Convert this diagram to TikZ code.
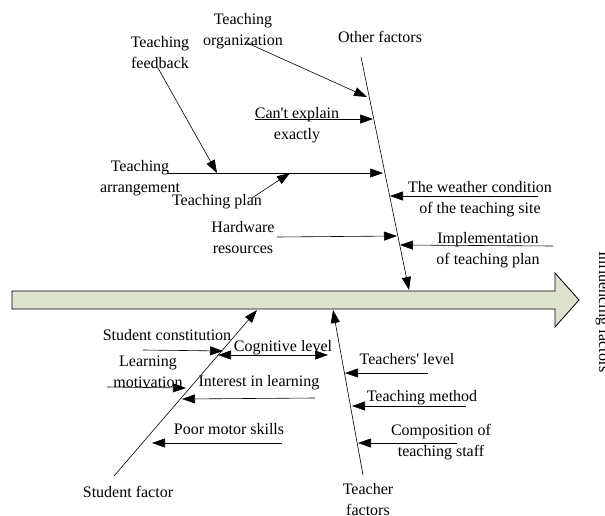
\documentclass[tikz,border=0pt]{standalone}
\usepackage{fontspec}
\setmainfont{Liberation Serif}
\usetikzlibrary{arrows.meta}
\definecolor{shaft}{RGB}{221,226,204}

\begin{document}
\begin{tikzpicture}[x=1pt,y=-1pt,
    font=\fontsize{16}{21}\selectfont,
    cause/.style={-{Triangle[length=13pt,width=9pt]}, line width=0.6pt},
    lbl/.style={align=center, inner sep=0pt}]

        \useasboundingbox (0,0) rectangle (605,516);

        % the big arrow
        \draw[fill=shaft, line width=0.8pt] (12,291) -- (555,291) -- (555,273) -- (579,300)
            -- (555,327) -- (555,309) -- (12,309) -- cycle;
        \node[lbl, rotate=-90, anchor=base] (influ) at (599,312) {Influencing factors};

        % upper bone: other factors
        \node[lbl] (other) at (380,37) {Other factors};
        \node[lbl] (org) at (243,31.5) {Teaching\\organization};
        \node[lbl] (feedback) at (160,52.5) {Teaching\\feedback};
        \node[lbl] (explain) at (297,125) {Can\textquotesingle t explain\\exactly};
        \node[lbl] (arrange) at (140,178.5) {Teaching\\arrangement};
        \node[lbl] (plan) at (217,202) {Teaching plan};
        \node[lbl] (hardware) at (243,237.5) {Hardware\\resources};
        \node[lbl] (weather) at (480,199) {The weather condition\\of the teaching site};
        \node[lbl] (implement) at (488,250.5) {Implementation\\of teaching plan};

        \coordinate (otherS) at (361,57);
        \coordinate (otherE) at (409,290);
        \coordinate (orgS) at (245,42);     \coordinate (orgE) at (367,97);
        \coordinate (explainS) at (255,119); \coordinate (explainE) at (373,119);
        \coordinate (feedS) at (158,68);    \coordinate (feedE) at (217,173);
        \coordinate (arrS) at (167,173);    \coordinate (arrE) at (383,173);
        \coordinate (planS) at (252,198);   \coordinate (planE) at (290,173);
        \coordinate (hardS) at (277,237);   \coordinate (hardE) at (397,236);
        \coordinate (weatherS) at (538,196); \coordinate (weatherE) at (390,196);
        \coordinate (implS) at (553,246);   \coordinate (implE) at (400,245);

        \draw[cause] (otherS) -- (otherE);
        \draw[cause] (orgS) -- (orgE);
        \draw[cause] (explainS) -- (explainE);
        \draw[cause] (feedS) -- (feedE);
        \draw[cause] (arrS) -- (arrE);
        \draw[cause] (planS) -- (planE);
        \draw[cause] (hardS) -- (hardE);
        \draw[cause] (weatherS) -- (weatherE);
        \draw[cause] (implS) -- (implE);

        % lower left bone: student factor
        \node[lbl] (student) at (128,492) {Student factor};
        \node[lbl] (constit) at (167,335) {Student constitution};
        \node[lbl] (cognitive) at (283,348) {Cognitive level};
        \node[lbl] (motiv) at (148,372) {Learning\\motivation};
        \node[lbl] (interest) at (259,383) {Interest in learning};
        \node[lbl] (motor) at (229,429) {Poor motor skills};

        \coordinate (studS) at (114,476);   \coordinate (studE) at (257,310);
        \coordinate (constS) at (143,350);  \coordinate (constE) at (223,351);
        \coordinate (cogS) at (218,355);    \coordinate (cogE) at (328,355);
        \coordinate (motS) at (107,387);    \coordinate (motE) at (186,388);
        \coordinate (intS) at (315,398);    \coordinate (intE) at (182,399);
        \coordinate (motorS) at (282,443);  \coordinate (motorE) at (152,443);

        \draw[cause] (studS) -- (studE);
        \draw[cause] (constS) -- (constE);
        \draw[cause, {Triangle[length=13pt,width=9pt]}-{Triangle[length=13pt,width=9pt]}] (cogS) -- (cogE);
        \draw[cause] (motS) -- (motE);
        \draw[cause] (intS) -- (intE);
        \draw[cause] (motorS) -- (motorE);

        % lower right bone: teacher factors
        \node[lbl] (teacher) at (368,500) {Teacher\\factors};
        \node[lbl] (tlevel) at (407,359) {Teachers\textquotesingle\ level};
        \node[lbl] (method) at (422,398) {Teaching method};
        \node[lbl] (staff) at (441,442) {Composition of\\teaching staff};

        \coordinate (teachS) at (363,475);  \coordinate (teachE) at (333,310);
        \coordinate (tlevS) at (428,373);   \coordinate (tlevE) at (345,373);
        \coordinate (methS) at (466,406);   \coordinate (methE) at (352,406);
        \coordinate (staffS) at (457,443);  \coordinate (staffE) at (358,443);

        \draw[cause] (teachS) -- (teachE);
        \draw[cause] (tlevS) -- (tlevE);
        \draw[cause] (methS) -- (methE);
        \draw[cause] (staffS) -- (staffE);

\end{tikzpicture}
\end{document}
